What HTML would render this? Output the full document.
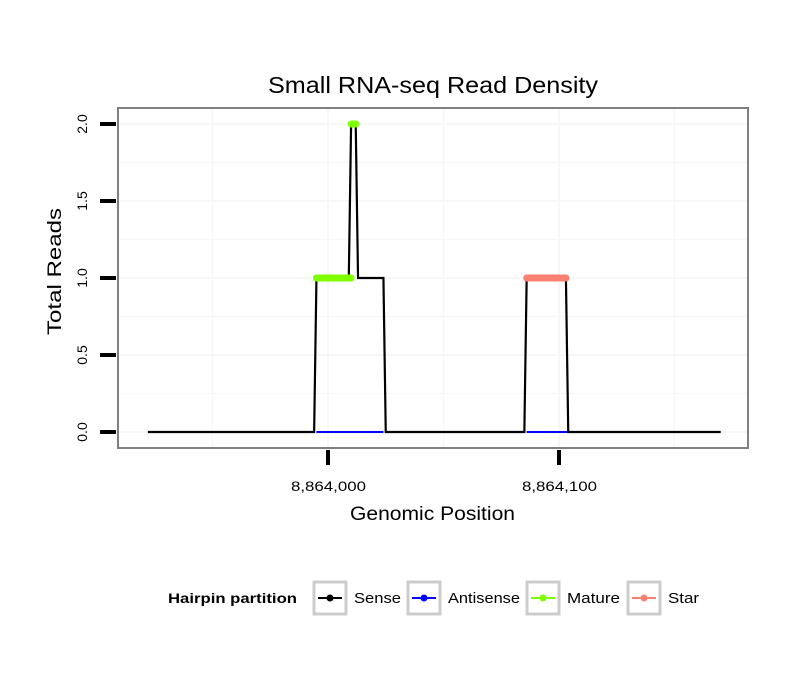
<!DOCTYPE html>
<html><head><meta charset="utf-8"><style>
body{margin:0;background:#fff;font-family:"Liberation Sans",sans-serif}
</style></head><body>
<svg id="chart" width="810" height="690" xmlns="http://www.w3.org/2000/svg" font-family="Liberation Sans, sans-serif">
<rect width="810" height="690" fill="#fff"/>
<text x="268" y="93" font-size="23" textLength="330" lengthAdjust="spacingAndGlyphs">Small RNA-seq Read Density</text>
<g id="grid"></g>
<g id="series"></g>
<rect x="118" y="108" width="630" height="340" fill="none" stroke="#808080" stroke-width="2"/>
<g id="axes"></g>
<text x="350" y="520" font-size="19" textLength="165" lengthAdjust="spacingAndGlyphs">Genomic Position</text>
<text transform="translate(61,335) rotate(-90)" font-size="19" textLength="127" lengthAdjust="spacingAndGlyphs">Total Reads</text>
<g>
<text x="168" y="603" font-size="14" font-weight="bold" textLength="129" lengthAdjust="spacingAndGlyphs">Hairpin partition</text>
<g id="legend"></g>
</g>
</svg>
<script>
const senseX=[-78,-6,-5,9,10,12,13,24,25,85,86,103,104,170];
const senseY=[0,0,1,1,2,2,1,1,0,0,1,1,0,0];
const antisenseSegs=[[-5,24],[86,104]];
const matureX=[[-5,10],[10,12]];
const matureY=[1,2];
const starX=[[86,103]];
const starY=[1];
const xTicks=[0,100];
const xTickLabels=["8,864,000","8,864,100"];
const yTicks=[0,0.5,1,1.5,2];
const yTickLabels=["0.0","0.5","1.0","1.5","2.0"];
const NS="http://www.w3.org/2000/svg";
const xs=p=>328+p*2.31, ys=v=>432-v*154;
function mk(parent,tag,attrs){const e=document.createElementNS(NS,tag);for(const k in attrs)e.setAttribute(k,attrs[k]);document.getElementById(parent).appendChild(e);return e;}
for(let p=-50;p<=150;p+=50){const l=mk('grid','line',{x1:xs(p),x2:xs(p),y1:109,y2:447,stroke:'#f7f7f7','stroke-width':p%100===0?2:1.5});

}
for(let v=0;v<=2;v+=0.25){const l=mk('grid','line',{x1:119,x2:747,y1:ys(v),y2:ys(v),stroke:'#f7f7f7','stroke-width':v%0.5===0?2:1.5});

}
antisenseSegs.forEach(s=>{const l=mk('series','line',{x1:xs(s[0]),x2:xs(s[1]),y1:ys(0),y2:ys(0),stroke:'#0000ff','stroke-width':2});

});
const sp=mk('series','polyline',{points:senseX.map((x,i)=>xs(x)+','+ys(senseY[i])).join(' '),fill:'none',stroke:'#000','stroke-width':2.2});


matureX.forEach((s,i)=>{const l=mk('series','line',{x1:xs(s[0]),x2:xs(s[1]),y1:ys(matureY[i]),y2:ys(matureY[i]),stroke:'#7fff00','stroke-width':7,'stroke-linecap':'round'});

});
starX.forEach((s,i)=>{const l=mk('series','line',{x1:xs(s[0]),x2:xs(s[1]),y1:ys(starY[i]),y2:ys(starY[i]),stroke:'#fa8072','stroke-width':7,'stroke-linecap':'round'});

});
xTicks.forEach((p,i)=>{const t=mk('axes','line',{x1:xs(p),x2:xs(p),y1:450,y2:465,stroke:'#000','stroke-width':4});


const tx=mk('axes','text',{x:xs(p)-37,y:491,'font-size':14,textLength:75,lengthAdjust:'spacingAndGlyphs'});tx.textContent=xTickLabels[i];

});
yTicks.forEach((v,i)=>{const t=mk('axes','line',{x1:100,x2:116,y1:ys(v),y2:ys(v),stroke:'#000','stroke-width':4});


const tx=mk('axes','text',{transform:`translate(87,${ys(v)}) rotate(-90)`,'text-anchor':'middle','font-size':14});tx.textContent=yTickLabels[i];

});
const leg=[["Sense","#000",314,47],["Antisense","#0000ff",408,72],["Mature","#7fff00",527,53],["Star","#fa8072",628,31]];
leg.forEach(d=>{const x=d[2];
const b=mk('legend','rect',{x:x,y:582,width:32,height:32,fill:'#fff',stroke:'#cccccc','stroke-width':3});


mk('legend','line',{x1:x+4,x2:x+28,y1:598,y2:598,stroke:d[1],'stroke-width':2});
mk('legend','circle',{cx:x+16,cy:598,r:3.5,fill:d[1]});
const t=mk('legend','text',{x:x+40,y:603,'font-size':15,textLength:d[3],lengthAdjust:'spacingAndGlyphs'});t.textContent=d[0];

});
</script>
</body></html>
